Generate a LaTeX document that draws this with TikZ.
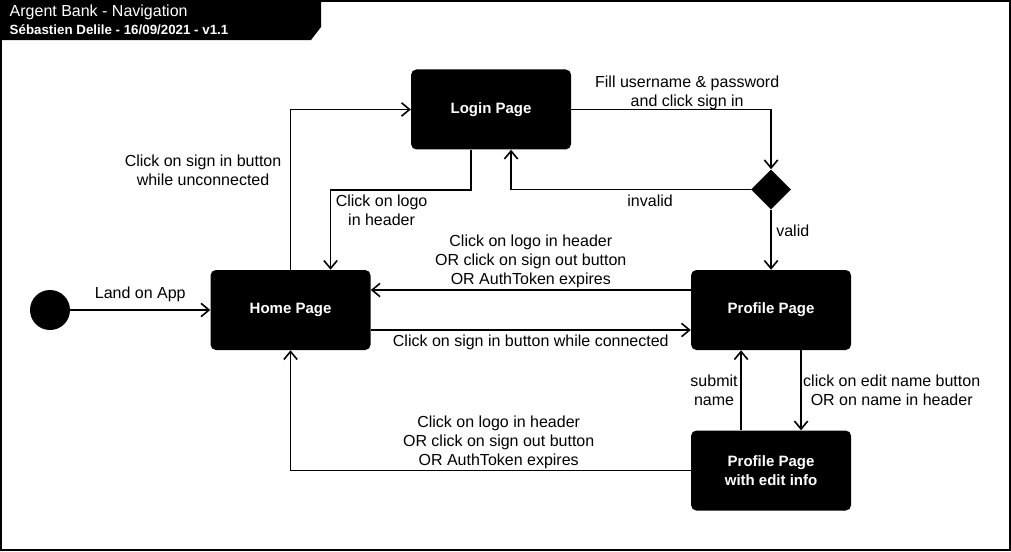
\documentclass[tikz,border=0pt]{standalone}
\usepackage{fontspec}
\setmainfont{Liberation Sans}
\usetikzlibrary{positioning, calc, shapes.geometric, arrows.meta}

\begin{document}
\begin{tikzpicture}[
    x=0.75pt, y=-0.75pt,
    every node/.style={font=\fontsize{12}{14.25}\selectfont},
    state/.style={rectangle, fill=black, rounded corners=4pt, minimum width=120pt, minimum height=60pt, text=white, align=center, font=\bfseries\fontsize{11.25}{14.25}\selectfont},
    startdot/.style={circle, fill=black, minimum size=30pt, inner sep=0pt},
    choice/.style={diamond, fill=black, minimum width=30pt, minimum height=30pt, inner sep=0pt},
    arrow/.style={-{Straight Barb[length=6pt, width=10pt]}, line width=1.2pt},
    lbl/.style={align=center, text=black},
    node distance=60pt
]

% Frame and title tab
\useasboundingbox (0,0) rectangle (1011,551);
\draw[line width=1.2pt] (1,1) rectangle (1010,550);
\fill (0,0) -- (321,0) -- (321,27) -- (311,40) -- (0,40) -- cycle;
\node[text=white, anchor=west] (title) at (5,12) {Argent Bank - Navigation};
\node[text=white, anchor=west, font=\bfseries\fontsize{10}{12}\selectfont] (author) at (5,30) {Sébastien Delile - 16/09/2021 - v1.1};

% States
\node[startdot] (start) at (50,310) {};
\node[state, right=105pt of start] (home) {Home Page};
\node[state, right=240pt of home] (profile) {Profile Page};
\node[state, below=60pt of profile] (edit) {Profile Page\\with edit info};
\node[state, above right=90pt and 30pt of home] (login) {Login Page};
\node[choice, above=45pt of profile] (check) {};

% Transitions from home / login
\draw[arrow] (start) -- node[lbl, above=2pt] {Land on App} (home);
\draw[arrow] (home.north) |- node[lbl, pos=0.31, left=3pt] {Click on sign in button\\while unconnected} (login.west);
\draw[arrow] ($(login.south)+(-20,0)$) |- ($(home.north)+(40,-80)$) node[lbl, below right] {Click on logo\\in header} -- ($(home.north)+(40,0)$);
\draw[arrow] (login.east) -| node[lbl, pos=0.29, above=-1.5pt, inner sep=1pt] {Fill username \& password\\and click sign in} (check.north);

% Sign in check
\draw[arrow] (check.west) -| node[lbl, pos=0.21, below] {invalid} ($(login.south)+(20,0)$);
\draw[arrow] (check.south) -- node[lbl, pos=0.35, right] {valid} (profile.north);

% Between home and profile
\draw[arrow] ($(profile.west)+(0,-20)$) -- node[lbl, above, inner sep=1pt] {Click on logo in header\\OR click on sign out button\\OR AuthToken expires} ($(home.east)+(0,-20)$);
\draw[arrow] ($(home.east)+(0,20)$) -- node[lbl, below=2pt, inner sep=1pt] {Click on sign in button while connected} ($(profile.west)+(0,20)$);

% Edit info
\draw[arrow] ($(profile.south)+(30,0)$) -- node[lbl, right, inner sep=1pt] {click on edit name button\\OR on name in header} ($(edit.north)+(30,0)$);
\draw[arrow] ($(edit.north)+(-30,0)$) -- node[lbl, left, inner sep=2pt] {submit\\name} ($(profile.south)+(-30,0)$);
\draw[arrow] (edit.west) -| node[lbl, pos=0.24, above, inner sep=1pt] {Click on logo in header\\OR click on sign out button\\OR AuthToken expires} (home.south);

\end{tikzpicture}
\end{document}
